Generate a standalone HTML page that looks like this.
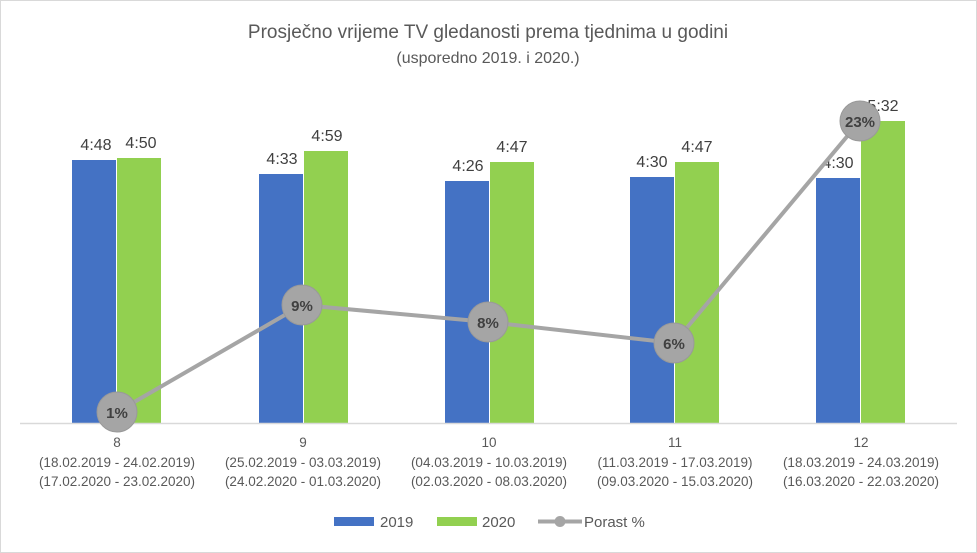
<!DOCTYPE html>
<html><head><meta charset="utf-8"><style>
body{margin:0;background:#fff}
svg{display:block;font-family:"Liberation Sans",sans-serif}
</style></head><body>
<svg width="977" height="553" viewBox="0 0 977 553">
<rect x="0.5" y="0.5" width="976" height="552" fill="#fff" stroke="#d9d9d9"/>
<text x="488" y="38" text-anchor="middle" font-size="19" fill="#595959">Prosječno vrijeme TV gledanosti prema tjednima u godini</text>
<text x="488" y="63" text-anchor="middle" font-size="16" fill="#595959">(usporedno 2019. i 2020.)</text>
<g fill="#4472c4">
<rect x="72" y="160" width="44" height="263"/>
<rect x="259" y="174" width="44" height="249"/>
<rect x="445" y="181" width="44" height="242"/>
<rect x="630" y="177" width="44" height="246"/>
<rect x="816" y="178" width="44" height="245"/>
</g>
<g fill="#92d050">
<rect x="117" y="158" width="44" height="265"/>
<rect x="304" y="151" width="44" height="272"/>
<rect x="490" y="162" width="44" height="261"/>
<rect x="675" y="162" width="44" height="261"/>
<rect x="861" y="121" width="44" height="302"/>
</g>
<line x1="20" y1="423.5" x2="957" y2="423.5" stroke="#d9d9d9" stroke-width="1.5"/>
<g font-size="16" fill="#404040" text-anchor="middle">
<text x="96" y="150">4:48</text><text x="141" y="148">4:50</text>
<text x="282" y="164">4:33</text><text x="327" y="141">4:59</text>
<text x="468" y="171">4:26</text><text x="512" y="152">4:47</text>
<text x="652" y="167">4:30</text><text x="697" y="152">4:47</text>
<text x="838" y="168">4:30</text><text x="883" y="111">5:32</text>
</g>
<polyline points="117,412 302,305 488,322 674,343 860,121" fill="none" stroke="#a5a5a5" stroke-width="4"/>
<g fill="#a5a5a5" stroke="#999" stroke-width="1">
<circle cx="117" cy="412" r="20"/><circle cx="302" cy="305" r="20"/><circle cx="488" cy="322" r="20"/><circle cx="674" cy="343" r="20"/><circle cx="860" cy="121" r="20"/>
</g>
<g font-size="15" font-weight="bold" fill="#404040" text-anchor="middle">
<text x="117" y="418">1%</text><text x="302" y="311">9%</text><text x="488" y="328">8%</text><text x="674" y="349">6%</text><text x="860" y="127">23%</text>
</g>
<g font-size="13.5" fill="#595959" text-anchor="middle">
<text x="117" y="447">8</text><text x="117" y="467">(18.02.2019 - 24.02.2019)</text><text x="117" y="486">(17.02.2020 - 23.02.2020)</text>
<text x="303" y="447">9</text><text x="303" y="467">(25.02.2019 - 03.03.2019)</text><text x="303" y="486">(24.02.2020 - 01.03.2020)</text>
<text x="489" y="447">10</text><text x="489" y="467">(04.03.2019 - 10.03.2019)</text><text x="489" y="486">(02.03.2020 - 08.03.2020)</text>
<text x="675" y="447">11</text><text x="675" y="467">(11.03.2019 - 17.03.2019)</text><text x="675" y="486">(09.03.2020 - 15.03.2020)</text>
<text x="861" y="447">12</text><text x="861" y="467">(18.03.2019 - 24.03.2019)</text><text x="861" y="486">(16.03.2020 - 22.03.2020)</text>
</g>
<rect x="334" y="517" width="40" height="9" fill="#4472c4"/>
<text x="380" y="527" font-size="15" fill="#595959">2019</text>
<rect x="437" y="517" width="40" height="9" fill="#92d050"/>
<text x="482" y="527" font-size="15" fill="#595959">2020</text>
<line x1="538" y1="521.5" x2="582" y2="521.5" stroke="#a5a5a5" stroke-width="4"/>
<circle cx="560" cy="521.5" r="5.5" fill="#a5a5a5"/>
<text x="584" y="527" font-size="15" fill="#595959">Porast %</text>
</svg>
</body></html>
